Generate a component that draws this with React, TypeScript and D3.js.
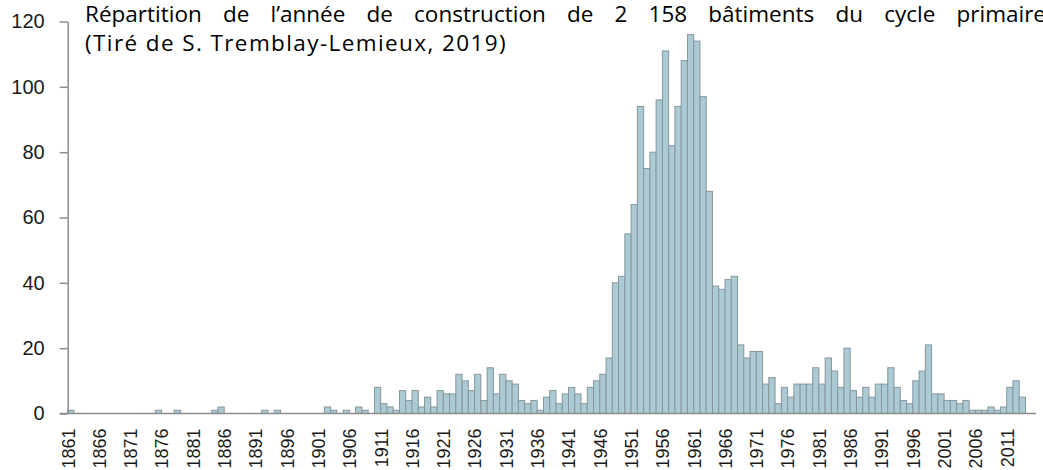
import React, { useEffect, useRef } from 'react'
import * as d3 from 'd3'

// years of construction (one bar per year)
const firstYear = 1861
const lastYear = 2013
const years = d3.range(firstYear, lastYear + 1)

// number of buildings built each year, 1861 -> 2013
const counts = [
  1, 0, 0, 0, 0, 0, 0, 0, 0, 0, 0, 0, 0, 0, 1, 0, 0, 1, 0, 0, // 1861-1880
  0, 0, 0, 1, 2, 0, 0, 0, 0, 0, 0, 1, 0, 1, 0, 0, 0, 0, 0, 0, // 1881-1900
  0, 2, 1, 0, 1, 0, 2, 1, 0, 8, 3, 2, 1, 7, 4, 7, 2, 5, 2, 7, // 1901-1920
  6, 6, 12, 10, 7, 12, 4, 14, 6, 12, 10, 9, 4, 3, 4, 1, 5, 7, 3, 6, // 1921-1940
  8, 6, 3, 8, 10, 12, 17, 40, 42, 55, 64, 94, 75, 80, 96, 111, 82, 94, 108, 116, // 1941-1960
  114, 97, 68, 39, 38, 41, 42, 21, 17, 19, 19, 9, 11, 3, 8, 5, 9, 9, 9, 14, // 1961-1980
  9, 17, 13, 8, 20, 7, 5, 8, 5, 9, 9, 14, 8, 4, 3, 10, 13, 21, 6, 6, // 1981-2000
  4, 4, 3, 4, 1, 1, 1, 2, 1, 2, 8, 10, 5 // 2001-2013
]

const yTicks = [0, 20, 40, 60, 80, 100, 120]
const labelEvery = 5

const titleLine1 = 'Répartition de l’année de construction de 2 158 bâtiments du cycle primaire'
const titleLine2 = '(Tiré de S. Tremblay-Lemieux, 2019)'

// layout
const svgWidth = 1043
const svgHeight = 470
const plotLeft = 67.7
const plotTop = 21.5
const plotBottom = 413.5
const barStep = 6.26
const titleLeft = 85
const titleRight = 1046 // first line is justified and runs just past the page edge

const axisColour = '#8c8c8c'
const barFill = '#abcad4'
const barStroke = '#87979c'

export default function App() {
  const ref = useRef<SVGSVGElement>(null)

  useEffect(() => {
    const svg = d3.select(ref.current)
    svg.selectAll('*').remove()

    const x = d3.scaleBand<number>()
      .domain(years)
      .range([plotLeft, plotLeft + years.length * barStep])
      .padding(0)

    const y = d3.scaleLinear()
      .domain([0, 120])
      .range([plotBottom, plotTop])

    const data = years.map((yr, i) => ({ year: yr, value: counts[i] }))

    // bars
    svg.append('g')
      .selectAll('rect')
      .data(data.filter(d => d.value > 0))
      .enter()
      .append('rect')
      .attr('x', d => x(d.year)!)
      .attr('width', x.bandwidth())
      .attr('y', d => y(d.value))
      .attr('height', d => y(0) - y(d.value))
      .attr('fill', barFill)
      .attr('stroke', barStroke)
      .attr('stroke-width', 1)

    // y axis
    const yAxis = svg.append('g')
      .attr('transform', `translate(${plotLeft},0)`)
      .call(d3.axisLeft(y).tickValues(yTicks).tickSize(8).tickSizeOuter(0).tickPadding(15))
    yAxis.select('.domain').attr('stroke', axisColour).attr('stroke-width', 1.5)
    yAxis.selectAll('.tick line').attr('stroke', axisColour).attr('stroke-width', 1.5)
    yAxis.selectAll('.tick text')
      .attr('font-family', 'Liberation Sans, Arial, sans-serif')
      .attr('font-size', 20)
      .attr('fill', '#1a1a1a')

    // x axis line
    svg.append('line')
      .attr('x1', plotLeft - 8)
      .attr('x2', 1036)
      .attr('y1', y(0))
      .attr('y2', y(0))
      .attr('stroke', axisColour)
      .attr('stroke-width', 1.5)

    // x labels, every 5 years, rotated
    svg.append('g')
      .selectAll('text')
      .data(years.filter(yr => (yr - firstYear) % labelEvery === 0))
      .enter()
      .append('text')
      .attr('transform', yr => `translate(${x(yr)! + 0.5},428.5) rotate(-90)`)
      .attr('text-anchor', 'end')
      .attr('dy', '0.35em')
      .attr('font-family', 'Liberation Sans, Arial, sans-serif')
      .attr('font-size', 18)
      .attr('fill', '#1a1a1a')
      .text(yr => String(yr))

    // title
    const titleFont = 'Open Sans, sans-serif'
    const titleSize = 22.5

    // first line, justified: one tspan per word, equal gaps between words
    const words = titleLine1.split(' ')
    const line1 = svg.append('text')
      .attr('y', 22)
      .attr('font-family', titleFont)
      .attr('font-size', titleSize)
      .attr('fill', '#000')
    const spans = line1.selectAll('tspan')
      .data(words)
      .enter()
      .append('tspan')
      .text(w => w)
    const widths = spans.nodes().map(n => (n as SVGTSpanElement).getComputedTextLength())
    const gap = (titleRight - titleLeft - d3.sum(widths)) / (words.length - 1)
    let cursor = titleLeft
    spans.attr('x', (_, i) => {
      const pos = cursor
      cursor += widths[i] + gap
      return pos
    })

    // second line, letter-spaced a little to reach the reference width
    const line2 = svg.append('text')
      .attr('x', titleLeft)
      .attr('y', 51)
      .attr('font-family', titleFont)
      .attr('font-size', titleSize)
      .attr('fill', '#000')
      .text(titleLine2)
    const w2 = (line2.node() as SVGTextElement).getComputedTextLength()
    line2.attr('letter-spacing', Math.max(0, (422 - w2) / titleLine2.length))
  }, [])

  return (
    <svg
      ref={ref}
      width={svgWidth}
      height={svgHeight}
      style={{ position: 'absolute', left: 0, top: 0, background: '#fff' }}
    />
  )
}
